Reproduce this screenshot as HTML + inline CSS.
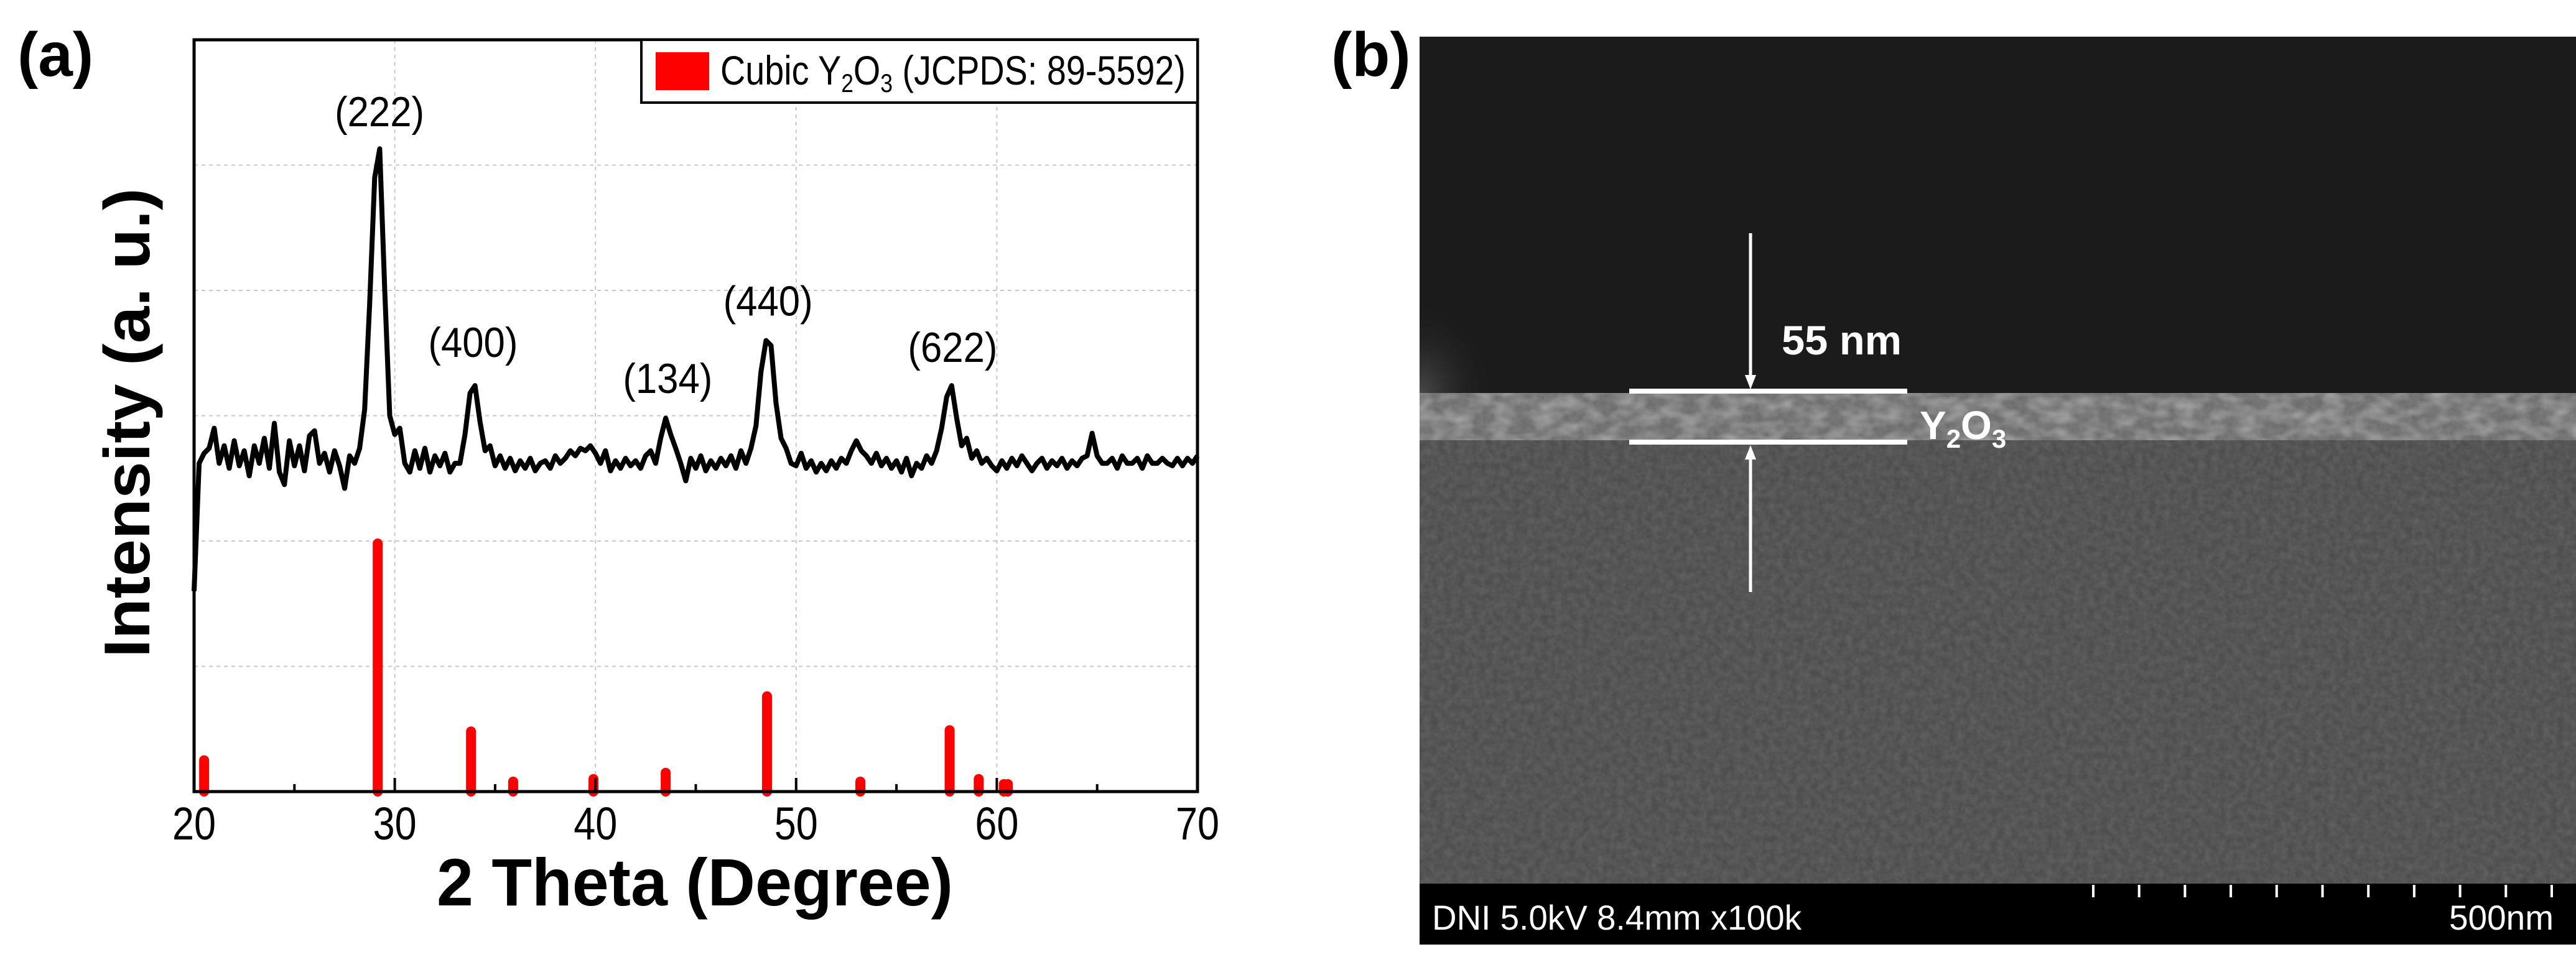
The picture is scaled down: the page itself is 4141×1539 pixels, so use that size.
<!DOCTYPE html>
<html><head><meta charset="utf-8"><style>
html,body{margin:0;padding:0;background:#fff;}
svg{display:block;}
</style></head><body>
<svg id="fig" width="4141" height="1539" viewBox="0 0 4141 1539" xmlns="http://www.w3.org/2000/svg">
<defs>
<filter id="grain" x="0" y="0" width="100%" height="100%">
<feTurbulence type="fractalNoise" baseFrequency="0.09" numOctaves="2" seed="3" result="n"/>
<feColorMatrix type="matrix" values="0 0 0 0 0  0 0 0 0 0  0 0 0 0 0  0.9 0 0 0 -0.2" in="n" result="a"/>
<feComposite in="SourceGraphic" in2="a" operator="in"/>
</filter>
<filter id="blotch" x="0" y="0" width="100%" height="100%">
<feTurbulence type="fractalNoise" baseFrequency="0.03 0.05" numOctaves="2" seed="7" result="n"/>
<feColorMatrix type="matrix" values="0 0 0 0 0  0 0 0 0 0  0 0 0 0 0  1.6 0 0 0 -0.6" in="n" result="a"/>
<feComposite in="SourceGraphic" in2="a" operator="in"/>
</filter>
<radialGradient id="corner" cx="0" cy="1" r="1">
<stop offset="0" stop-color="#4a4a4a"/><stop offset="1" stop-color="#1b1b1b" stop-opacity="0"/>
</radialGradient>
</defs>
<g id="panelA"></g>
<g id="panelB">
<text x="2140" y="122" font-family="Liberation Sans, sans-serif" font-weight="bold" font-size="100" fill="#000">(b)</text>
<rect x="2282" y="59" width="1859" height="1460" fill="#1b1b1b"/>
<rect x="2282" y="480" width="120" height="155" fill="url(#corner)"/>
<rect x="2282" y="632" width="1859" height="80" fill="#6e6e6e"/>
<rect x="2282" y="632" width="1859" height="80" fill="#b4b4b4" filter="url(#blotch)"/>
<rect x="2282" y="632" width="1859" height="80" fill="#a0a0a0" filter="url(#grain)" opacity="0.5"/>
<rect x="2282" y="708" width="1859" height="713" fill="#4e4e4e"/>
<rect x="2282" y="708" width="1859" height="713" fill="#7a7a7a" filter="url(#grain)" opacity="0.7"/>
<rect x="2282" y="1421" width="1859" height="98" fill="#000"/>
<text x="2302" y="1495" font-family="Liberation Sans Narrow, Liberation Sans, sans-serif" font-size="56" fill="#fff" textLength="594" lengthAdjust="spacingAndGlyphs">DNI 5.0kV 8.4mm x100k</text>
<text x="3937" y="1495" font-family="Liberation Sans Narrow, Liberation Sans, sans-serif" font-size="56" fill="#fff" textLength="168" lengthAdjust="spacingAndGlyphs">500nm</text>
<g id="scaleTicks"></g>
<line x1="2619" y1="629" x2="3066" y2="629" stroke="#fff" stroke-width="8"/>
<line x1="2619" y1="711" x2="3066" y2="711" stroke="#fff" stroke-width="8"/>
<line x1="2814" y1="375" x2="2814" y2="605" stroke="#fff" stroke-width="5"/>
<polygon points="2805,603 2823,603 2814,626" fill="#fff"/>
<line x1="2814" y1="737" x2="2814" y2="952" stroke="#fff" stroke-width="5"/>
<polygon points="2805,739 2823,739 2814,716" fill="#fff"/>
<text x="2864" y="570" font-family="Liberation Sans, sans-serif" font-weight="bold" font-size="66" fill="#fff" textLength="193" lengthAdjust="spacingAndGlyphs">55 nm</text>
<text x="3086" y="706" font-family="Liberation Sans, sans-serif" font-weight="bold" font-size="64" fill="#fff">Y<tspan font-size="42" dy="14">2</tspan><tspan dy="-14">O</tspan><tspan font-size="42" dy="14">3</tspan></text>
</g>
</svg>
<script>
// ---- XRD data ----
const xStart = 20;
const xStep = 0.25;
const intensity = [1.60,2.62,2.70,2.74,2.90,2.62,2.76,2.58,2.80,2.60,2.72,2.52,2.76,2.62,2.82,2.58,2.94,2.55,2.45,2.80,
2.60,2.76,2.56,2.84,2.88,2.62,2.70,2.55,2.72,2.60,2.42,2.68,2.62,2.74,3.05,3.90,4.90,5.13,4.00,3.00,
2.85,2.90,2.62,2.55,2.72,2.58,2.74,2.55,2.68,2.60,2.70,2.55,2.62,2.62,2.85,3.18,3.24,2.95,2.72,2.76,
2.60,2.68,2.58,2.66,2.56,2.64,2.58,2.66,2.56,2.62,2.64,2.58,2.68,2.62,2.66,2.72,2.68,2.74,2.72,2.76,
2.70,2.62,2.72,2.56,2.64,2.58,2.66,2.60,2.64,2.58,2.68,2.72,2.62,2.82,2.98,2.85,2.74,2.62,2.48,2.66,
2.58,2.68,2.56,2.64,2.58,2.66,2.60,2.68,2.58,2.72,2.62,2.74,2.92,3.35,3.60,3.56,3.10,2.82,2.74,2.62,
2.60,2.70,2.58,2.64,2.55,2.62,2.56,2.64,2.58,2.66,2.62,2.72,2.80,2.72,2.68,2.62,2.70,2.60,2.66,2.58,
2.64,2.55,2.66,2.52,2.62,2.58,2.68,2.62,2.72,2.90,3.15,3.24,2.98,2.76,2.82,2.66,2.72,2.62,2.66,2.60,
2.56,2.64,2.58,2.66,2.60,2.68,2.62,2.56,2.62,2.66,2.58,2.64,2.60,2.66,2.58,2.64,2.60,2.66,2.68,2.86,
2.68,2.62,2.62,2.66,2.58,2.68,2.62,2.62,2.66,2.58,2.68,2.62,2.62,2.66,2.62,2.60,2.66,2.60,2.66,2.62,2.68];
const refPositions = [20.5,29.15,33.8,35.9,39.9,43.5,48.55,53.2,57.65,59.1,60.35,60.55];
const refHeights = [0.29,2.02,0.52,0.12,0.14,0.19,0.80,0.12,0.53,0.14,0.10,0.10];
const xTicks = [20,30,40,50,60,70];
const xMinorTicks = [25,35,45,55,65];
const yGrid = [1,2,3,4,5];
const peakLabels = ["(222)","(400)","(134)","(440)","(622)"];
const peakX = [29.24,33.9,43.6,48.6,57.8];
const peakLabelY = [5.31,3.47,3.18,3.80,3.43];

const NS = "http://www.w3.org/2000/svg";
const L = 312, R = 1925, T = 64, B = 1273;
const xMin = 20, xMax = 70, yMax = 6;
function sx(v){ return L + (v - xMin) / (xMax - xMin) * (R - L); }
function sy(v){ return B - v / yMax * (B - T); }
const g = document.getElementById('panelA');
function mk(tag, attrs, parent){ const e = document.createElementNS(NS, tag); for (const k in attrs) e.setAttribute(k, attrs[k]); (parent||g).appendChild(e); return e; }

let t = mk('text', {x:28, y:122, 'font-family':'Liberation Sans, sans-serif', 'font-weight':'bold', 'font-size':100});


t.textContent = '(a)';

yGrid.forEach(v => {
  const l = mk('line', {x1:L, x2:R, y1:sy(v), y2:sy(v), stroke:'#c8c8c8', 'stroke-width':2, 'stroke-dasharray':'6 6'});
  
  
});
xTicks.slice(1, -1).forEach(v => {
  const l = mk('line', {x1:sx(v), x2:sx(v), y1:T, y2:B, stroke:'#c8c8c8', 'stroke-width':2, 'stroke-dasharray':'6 6'});
  
  
});

refPositions.forEach((p, i) => {
  const b = mk('line', {x1:sx(p), x2:sx(p), y1:B, y2:sy(refHeights[i]) + 8, stroke:'#ff0000', 'stroke-width':16, 'stroke-linecap':'round'});
  
  
});

let d = '';
intensity.forEach((v, i) => { d += (i ? 'L' : 'M') + sx(xStart + i * xStep).toFixed(1) + ',' + sy(v).toFixed(1); });
const path = mk('path', {d:d, fill:'none', stroke:'#000', 'stroke-width':8, 'stroke-linejoin':'round'});



peakLabels.forEach((s, i) => {
  const e = mk('text', {x:sx(peakX[i]), y:sy(peakLabelY[i]), 'text-anchor':'middle', 'font-family':'Liberation Sans Narrow, Liberation Sans, sans-serif', 'font-size':68, textLength:144, lengthAdjust:'spacingAndGlyphs'});
  
  
  e.textContent = s;
});

const frame = mk('rect', {x:L, y:T, width:R-L, height:B-T, fill:'none', stroke:'#000', 'stroke-width':5});



xTicks.forEach(v => {
  const l = mk('line', {x1:sx(v), x2:sx(v), y1:B, y2:B-22, stroke:'#000', 'stroke-width':4});
  
  
  const e = mk('text', {x:sx(v), y:1350, 'text-anchor':'middle', 'font-family':'Liberation Sans Narrow, Liberation Sans, sans-serif', 'font-size':74, textLength:70, lengthAdjust:'spacingAndGlyphs'});
  
  
  e.textContent = v;
});
xMinorTicks.forEach(v => {
  const l = mk('line', {x1:sx(v), x2:sx(v), y1:B, y2:B-12, stroke:'#000', 'stroke-width':4});
  
  
});

const xt = mk('text', {x:1117, y:1456, 'text-anchor':'middle', 'font-family':'Liberation Sans Narrow, Liberation Sans, sans-serif', 'font-weight':'bold', 'font-size':108, textLength:830, lengthAdjust:'spacingAndGlyphs'});


xt.textContent = '2 Theta (Degree)';
const yt = mk('text', {x:0, y:0, 'text-anchor':'middle', transform:'translate(240,680) rotate(-90)', 'font-family':'Liberation Sans, sans-serif', 'font-weight':'bold', 'font-size':104, textLength:755, lengthAdjust:'spacingAndGlyphs'});


yt.textContent = 'Intensity (a. u.)';

const lg = mk('g', {});


const lb = mk('rect', {x:1031, y:64, width:894, height:101, fill:'#fff', stroke:'#000', 'stroke-width':4}, lg);


const sw = mk('rect', {x:1054, y:84, width:86, height:61, fill:'#ff0000'}, lg);


const lt = mk('text', {x:1158, y:136, 'font-family':'Liberation Sans Narrow, Liberation Sans, sans-serif', 'font-size':66, textLength:748, lengthAdjust:'spacingAndGlyphs'}, lg);


lt.innerHTML = 'Cubic Y<tspan font-size="42" dy="12">2</tspan><tspan dy="-12">O</tspan><tspan font-size="42" dy="12">3</tspan><tspan dy="-12"> (JCPDS: 89-5592)</tspan>';

// SEM scale bar ticks
const scaleTickIdx = [0,1,2,3,4,5,6,7,8,9,10];
const sg = document.getElementById('scaleTicks');
scaleTickIdx.forEach(i => {
  const x = 3365 + i * 73.7;
  const l = mk('line', {x1:x, x2:x, y1:1423, y2:1443, stroke:'#fff', 'stroke-width':4}, sg);
  
  
});
</script>
</body></html>
